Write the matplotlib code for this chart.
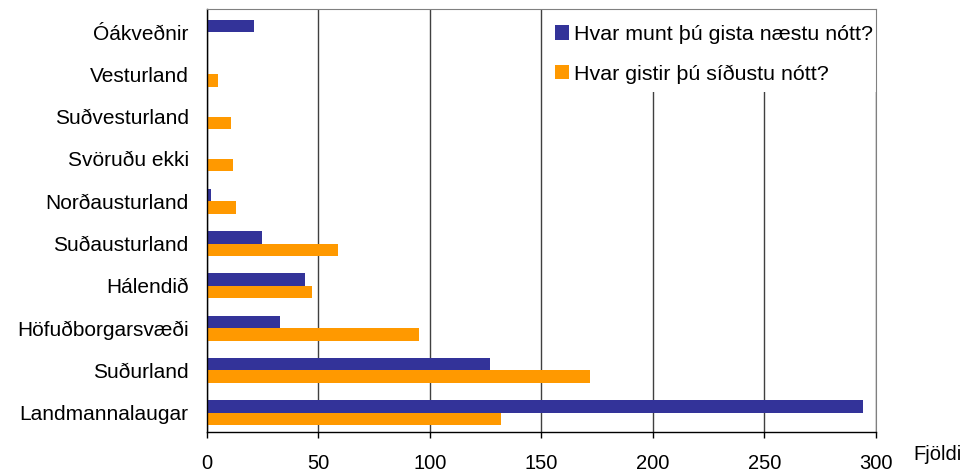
import matplotlib
matplotlib.use("Agg")
import matplotlib.pyplot as plt
from matplotlib.patches import Rectangle
from matplotlib.transforms import blended_transform_factory
import numpy as np

categories = ["Landmannalaugar", "Suðurland", "Höfuðborgarsvæði", "Hálendið",
              "Suðausturland", "Norðausturland", "Svöruðu ekki", "Suðvesturland",
              "Vesturland", "Óákveðnir"]
next_night = [294, 127, 33, 44, 25, 2, 0, 0, 0, 21]
last_night = [132, 172, 95, 47, 59, 13, 12, 11, 5, 0]
series_labels = ["Hvar munt þú gista næstu nótt?", "Hvar gistir þú síðustu nótt?"]
x_ticks = [0, 50, 100, 150, 200, 250, 300]
x_title = "Fjöldi"

plt.rcParams['font.family'] = ['Liberation Sans', 'DejaVu Sans']

W, H = 962, 472
fig = plt.figure(figsize=(W / 100, H / 100), dpi=100)
ax = fig.add_axes([206.7 / W, 1 - 432 / H, (876 - 206.7) / W, (432 - 9) / H])

y = np.arange(len(categories))
h = 0.295
ax.barh(y + h / 2, next_night, height=h, color="#333399", label=series_labels[0], zorder=3)
ax.barh(y - h / 2, last_night, height=h, color="#FF9900", label=series_labels[1], zorder=3)

ax.set_xlim(0, 300)
ax.set_ylim(-0.456, 9.544)
ax.set_xticks(x_ticks)
ax.set_yticks(y)
ax.set_yticklabels(categories)
ax.tick_params(axis="y", length=0, pad=13, labelsize=15)
ax.tick_params(axis="x", length=4, width=1, direction="out", pad=11.5, labelsize=14.5)

ax.grid(axis="x", color="#404040", linewidth=1.0, zorder=1)
ax.set_axisbelow(True)

for s in ["top", "right"]:
    ax.spines[s].set_color("#808080")
    ax.spines[s].set_linewidth(0.8)
    ax.spines[s].set_zorder(10)
for s in ["left", "bottom"]:
    ax.spines[s].set_color("black")
    ax.spines[s].set_linewidth(1.0)
    ax.spines[s].set_zorder(10)

# white legend background box
trans = blended_transform_factory(ax.transData, ax.transAxes)
y0 = (432 - 92) / 423
ax.add_patch(Rectangle((151.2, y0), 148.8, 1 - y0, transform=trans,
                       facecolor="white", edgecolor="none", zorder=4))

leg = fig.legend(loc="upper left", bbox_to_anchor=(555 / W, 1 - 25 / H),
                 bbox_transform=fig.transFigure, fontsize=15.4,
                 frameon=False, handlelength=0.65, handleheight=0.65,
                 handletextpad=0.24, borderaxespad=0.0, labelspacing=0.95,
                 borderpad=0.0)

fig.text(913 / W, 1 - 454 / H, x_title, fontsize=14.5, ha="left", va="center")

fig.savefig("out.png", dpi=100)
